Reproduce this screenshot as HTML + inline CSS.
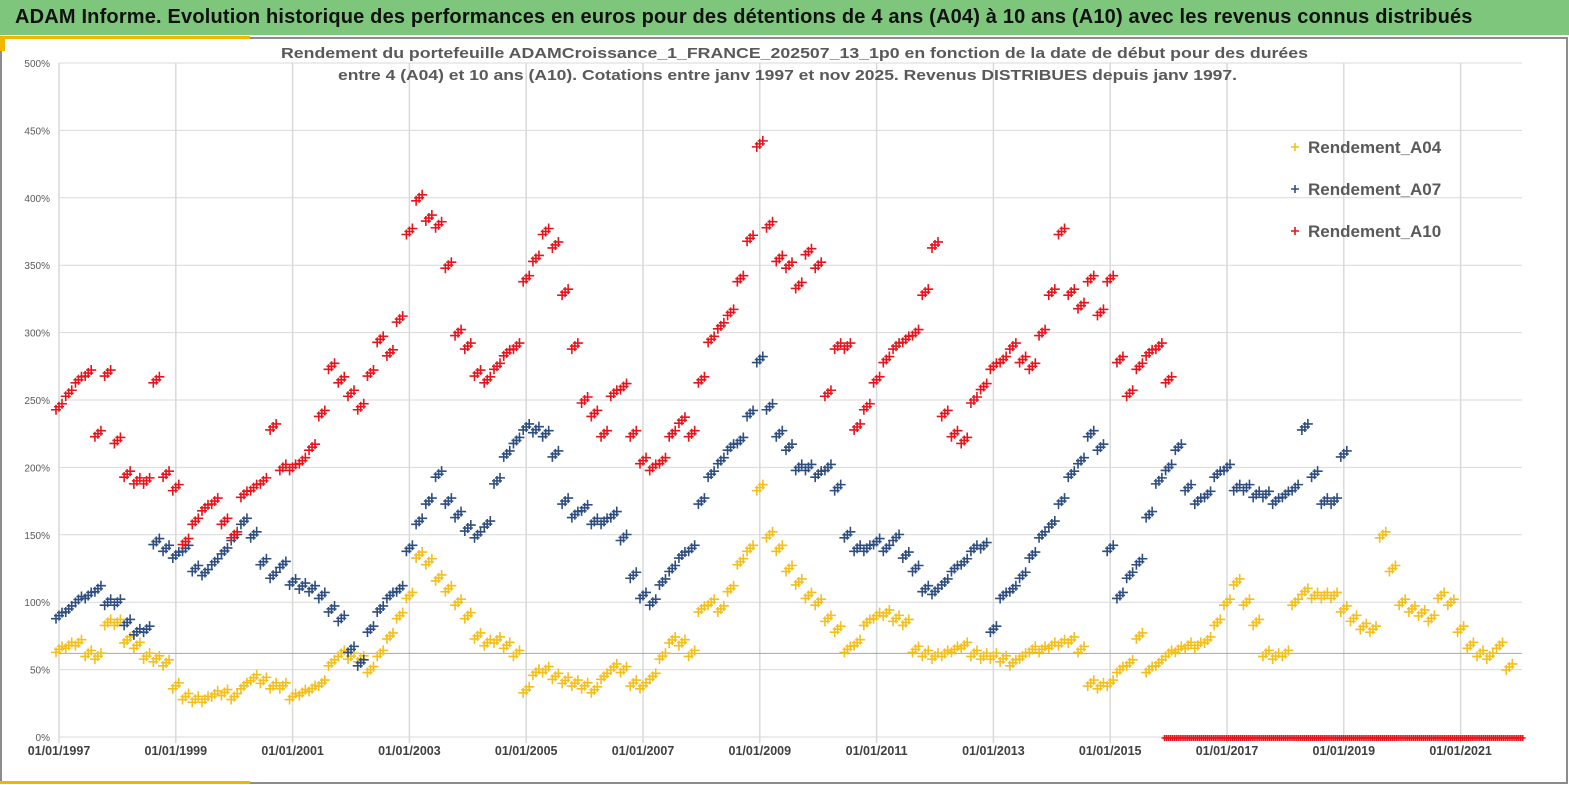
<!DOCTYPE html>
<html><head><meta charset="utf-8">
<style>
html,body{margin:0;padding:0;background:#fff;}
body{width:1569px;height:785px;overflow:hidden;position:relative;font-family:"Liberation Sans",sans-serif;}
#hdr{position:absolute;left:0;top:0;width:1569px;height:35px;background:#7dc67c;}
#hdr span{position:absolute;left:15px;top:6px;font-size:20px;letter-spacing:0.18px;font-weight:bold;color:#111;white-space:nowrap;}
</style></head>
<body>
<div id="hdr"><span>ADAM Informe. Evolution historique des performances en euros pour des détentions de 4 ans (A04) à 10 ans (A10) avec les revenus connus distribués</span></div>
<svg id="chart" width="1569" height="750" style="position:absolute;left:0;top:35px" xmlns="http://www.w3.org/2000/svg">
</svg>
<script>
const startYear = 1997;
const stepYears = 1/6;
const a04Values = [65,68,70,62,60,85,85,72,68,60,58,55,38,30,28,28,32,33,30,38,44,42,38,38,30,33,36,40,55,62,60,58,50,62,75,90,105,135,130,118,110,100,90,75,70,72,68,62,35,48,50,45,42,40,38,35,45,52,50,40,38,45,60,72,70,62,95,100,95,110,130,140,185,150,140,125,115,105,100,88,80,65,70,85,90,92,88,85,65,62,60,62,65,68,62,60,60,58,55,60,65,65,68,70,72,65,40,38,40,50,55,75,50,55,62,65,68,68,72,85,100,115,100,85,62,60,62,100,108,105,105,105,95,88,82,80,150,125,100,95,92,88,105,100,80,68,62,60,68,52];
const a07Values = [90,95,102,105,110,100,100,85,78,80,145,140,135,140,125,122,130,138,148,160,150,130,120,128,115,112,110,105,95,88,65,55,80,95,105,110,140,160,175,195,175,165,155,150,158,190,210,220,230,228,225,210,175,165,170,160,160,165,148,120,105,100,115,125,135,140,175,195,205,215,220,240,280,245,225,215,200,200,195,200,185,150,140,140,145,140,148,135,125,110,108,115,125,130,140,142,80,105,110,120,135,150,158,175,195,205,225,215,140,105,120,130,165,190,200,215,185,175,180,195,200,185,185,180,180,175,180,185,230,195,175,175,210];
const a10Values = [245,255,265,270,225,270,220,195,190,190,265,195,185,145,160,170,175,160,150,180,185,190,230,200,200,205,215,240,275,265,255,245,270,295,285,310,375,400,385,380,350,300,290,270,265,275,285,290,340,355,375,365,330,290,250,240,225,255,260,225,205,200,205,225,235,225,265,295,305,315,340,370,440,380,355,350,335,360,350,255,290,290,230,245,265,280,290,295,300,330,365,240,225,220,250,260,275,280,290,280,275,300,330,375,330,320,340,315,340,280,255,275,285,290,265];
const a10ZeroRange = [2015.93, 2022.08];
const yTicks = [0,50,100,150,200,250,300,350,400,450,500];
const xTickYears = [1997,1999,2001,2003,2005,2007,2009,2011,2013,2015,2017,2019,2021];
const refLine = 62;

const NS='http://www.w3.org/2000/svg';
const svg=document.getElementById('chart');
const OY=35;
const X0=59, PXY=58.4, Y0=737-OY, PXV=1.348;
const xs=t=>X0+(t-1997)*PXY;
const ys=v=>Y0-v*PXV;
function mk(tag,attrs,parent){const e=document.createElementNS(NS,tag);for(const k in attrs)e.setAttribute(k,attrs[k]);(parent||svg).appendChild(e);return e;}

let fr=mk('rect',{x:1,y:3,width:1566,height:745,fill:'none',stroke:'#8c8c8c','stroke-width':2});


let yl=mk('rect',{x:0,y:1,width:250,height:3,fill:'#f2b600'});


let yl2=mk('rect',{x:0,y:1,width:5,height:15,fill:'#f2b600'});


let yl3=mk('rect',{x:0,y:746,width:250,height:3,fill:'#f2b600'});



yTicks.forEach(v=>{
  const g=mk('line',{x1:X0,x2:1522,y1:ys(v),y2:ys(v),stroke:'#d9d9d9','stroke-width':1});
  
  
  const t=mk('text',{x:50,y:ys(v)+4,'text-anchor':'end','font-size':10,fill:'#595959','font-family':'Liberation Sans, sans-serif'});
  t.textContent=v+'%';
  
  
});
xTickYears.forEach(yr=>{
  const g=mk('line',{x1:xs(yr),x2:xs(yr),y1:ys(500),y2:ys(0)+6,stroke:'#d9d9d9','stroke-width':1.5});
  
  
  const t=mk('text',{x:xs(yr),y:ys(0)+18,'text-anchor':'middle','font-size':12.5,'font-weight':'bold',fill:'#404040','font-family':'Liberation Sans, sans-serif'});
  t.textContent='01/01/'+yr;
  
  
});
const rl=mk('line',{x1:X0,x2:1522,y1:ys(refLine),y2:ys(refLine),stroke:'#a6a6a6','stroke-width':1});



[['Rendement du portefeuille ADAMCroissance_1_FRANCE_202507_13_1p0  en fonction de la date de début pour des durées',23,281,1027],
 ['entre 4 (A04) et 10 ans (A10). Cotations  entre janv 1997 et nov 2025. Revenus DISTRIBUES depuis janv 1997.',45,338,899]].forEach(([s,y,x,w])=>{
  const t=mk('text',{x:x,y:y,textLength:w,lengthAdjust:'spacingAndGlyphs','font-size':15,'font-weight':'bold',fill:'#595959','font-family':'Liberation Sans, sans-serif'});
  t.textContent=s;
  
  
});

function plus(cx,cy,color,parent,sz){
  const h=sz||5;
  mk('path',{d:`M${cx-h} ${cy}H${cx+h}M${cx} ${cy-h}V${cy+h}`,stroke:color,'stroke-width':1.6,fill:'none'},parent);
}
const dup=[[-3,3],[0,0],[3,-3]];
function series(vals,color,name){
  const g=mk('g',{});
  
  
  vals.forEach((v,i)=>{
    const cx=xs(startYear+i*stepYears), cy=ys(v);
    dup.forEach(([dx,dy])=>plus(cx+dx,cy+dy,color,g));
  });
}
series(a04Values,'#f5bf1a','series-a04');
series(a07Values,'#2f4e80','series-a07');
series(a10Values,'#e8141c','series-a10');
const zg=mk('g',{});


for(let t=a10ZeroRange[0];t<=a10ZeroRange[1];t+=1/30){plus(xs(t),ys(0)+1,'#e8141c',zg,3);}

const legend=[['Rendement_A04','#f5bf1a'],['Rendement_A07','#2f4e80'],['Rendement_A10','#e8141c']];
legend.forEach(([s,c],i)=>{
  const g=mk('g',{});
  
  
  const y=112+i*42;
  plus(1295,y,c,g,4);
  const t=mk('text',{x:1308,y:y+6,'font-size':17,'font-weight':'bold',fill:'#595959','font-family':'Liberation Sans, sans-serif'},g);
  t.textContent=s;
});
</script>
</body></html>
